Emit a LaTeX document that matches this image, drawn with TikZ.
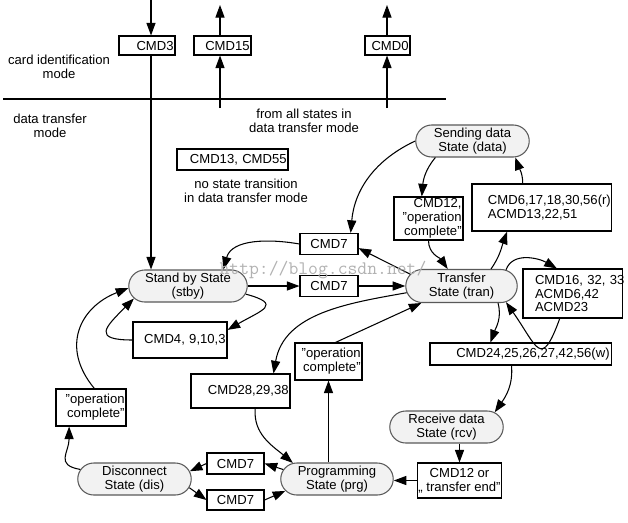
\documentclass[tikz,border=0pt]{standalone}
\usepackage{fontspec}
\setmainfont{Liberation Sans}
\usetikzlibrary{arrows.meta,shapes.misc}

\begin{document}
\begin{tikzpicture}[x=0.025cm, y=0.025cm, line width=0.75pt,
	>={Triangle[length=9pt,width=6.5pt]},
	font=\fontsize{9.3}{9.8}\selectfont,
	state/.style={rounded rectangle, draw=black!65, fill=black!5, minimum width=2.625cm, minimum height=0.8cm, inner xsep=-3pt, inner ysep=0pt, align=center},
	cmd/.style={draw, rectangle, inner xsep=1pt, inner ysep=0.5pt, align=right},
	cmdc/.style={draw, rectangle, inner sep=0.5pt, align=center},
	lbl/.style={inner sep=0pt, align=center}]
	\useasboundingbox (0,0) rectangle (628,522);
	\node[state, minimum width=2.75cm] (stby) at (188,236) {Stand by State\\(stby)};
	\node[state, minimum width=2.575cm, minimum height=0.825cm] (tran) at (461.5,236) {Transfer\\State (tran)};
	\node[state] (data) at (472.5,381) {Sending data\\State (data)};
	\node[state] (rcv) at (446.5,95) {Receive data\\State (rcv)};
	\node[state, minimum width=2.6cm] (prg) at (337,43) {Programming\\State (prg)};
	\node[state] (dis) at (134.5,43) {Disconnect\\State (dis)};
	\node[cmd, text width=1.33cm, minimum height=0.475cm] (cmdthree) at (147,476.5) {CMD3};
	\node[cmd, text width=1.355cm, minimum height=0.475cm] (cmdfifteen) at (222.5,476.5) {CMD15};
	\node[cmd, text width=1.055cm, minimum height=0.475cm] (cmdzero) at (387.5,476.5) {CMD0};
	\node[cmd, text width=2.705cm, minimum height=0.525cm] (cmdthirteen) at (232.5,362.5) {CMD13, CMD55};
	\node[cmd, text width=1.655cm, minimum height=1.075cm] (cmdtwelve) at (428.5,303.5) {CMD12,\\"operation\\complete"};
	\node[cmd, align=left, inner xsep=0.4cm, text width=2.675cm, minimum height=1.175cm] (cmdsix) at (541.5,314.5) {CMD6,17,18,30,56(r)\\ACMD13,22,51};
	\node[cmd, align=left, inner xsep=0.3cm, text width=1.875cm, minimum height=1.225cm] (cmdsixteen) at (572.5,228.5) {CMD16,~32,~33\\ACMD6,42\\ACMD23};
	\node[cmdc, minimum width=1.45cm, minimum height=0.525cm] (cmdsevenup) at (329,278) {CMD7};
	\node[cmdc, minimum width=1.45cm, minimum height=0.525cm] (cmdsevenr) at (329,236) {CMD7};
	\node[cmd, text width=2.28cm, minimum height=0.9cm] (cmdfour) at (180,182) {CMD4, 9,10,3};
	\node[cmd, text width=4.455cm, minimum height=0.55cm] (cmdtwentyfour) at (520.5,168) {CMD24,25,26,27,42,56(w)};
	\node[cmd, text width=2.405cm, minimum height=0.85cm] (cmdtwentyeight) at (240.5,131) {CMD28,29,38};
	\node[cmd, text width=1.605cm, minimum height=0.925cm] (opdone) at (328.5,160.5) {"operation\\complete"};
	\node[cmd, text width=1.68cm, minimum height=0.925cm] (opdis) at (91,114.5) {"operation\\complete"};
	\node[cmdc, minimum width=2.025cm, minimum height=0.875cm] (cmdtwelveor) at (459.5,41.5) {CMD12 or\\„ transfer end"};
	\node[cmdc, minimum width=1.425cm, minimum height=0.525cm] (cmdsevendis) at (235.5,58.5) {CMD7};
	\node[cmdc, minimum width=1.425cm, minimum height=0.5cm] (cmdsevenprg) at (235.5,22) {CMD7};
	\node[lbl] (cardmode) at (59,455.5) {card identification\\mode};
	\node[lbl] (datamode) at (50,396) {data transfer\\mode};
	\node[lbl] (fromall) at (304,401) {from all states in\\data transfer mode};
	\node[lbl] (nostate) at (246,331) {no state transition\\in data transfer mode};
	\coordinate (topthree) at (151,522);
	\coordinate (topfifteen) at (220,517);
	\coordinate (lowfifteen) at (220,414);
	\coordinate (topzero) at (387,517);
	\coordinate (lowzero) at (387,414);
	\coordinate (lineleft) at (3,423);
	\coordinate (lineright) at (446,423);
	\draw (lineleft) -- (lineright);
	\draw[->] (topthree) -- (topthree |- cmdthree.north);
	\draw[->] (topthree |- cmdthree.south) -- (topthree |- stby.north);
	\draw[->] (lowfifteen) -- (lowfifteen |- cmdfifteen.south);
	\draw[->] (lowfifteen |- cmdfifteen.north) -- (topfifteen);
	\draw[->] (lowzero) -- (lowzero |- cmdzero.south);
	\draw[->] (lowzero |- cmdzero.north) -- (topzero);
	\draw[->] (data.west) to[out=205, in=85] (cmdsevenup.27);
	\draw[->] (data.204) to[out=230, in=85] (cmdtwelve.107);
	\draw[->] (cmdtwelve.south) to[out=-90, in=125] (tran.129);
	\draw[->] (tran.30) to[out=55, in=250] (cmdsix.215);
	\draw[->] (cmdsix.128) to[out=90, in=-70] (data.-21);
	\draw[->] (tran.20) to[out=70, in=150] (cmdsixteen.122);
	\draw[->] (cmdsixteen.243) to[out=-110, in=-55, looseness=2.5] (tran.-20);
	\draw[->] (tran.167) -- (cmdsevenup.-8);
	\draw[->] (cmdsevenup.west) to[out=170, in=75] (stby.25);
	\draw[->] (stby.east) -- (cmdsevenr.west);
	\draw[->] (cmdsevenr.east) -- (tran.west);
	\draw[->] (stby.-8) to[out=-15, in=30, looseness=2.5] (cmdfour.12);
	\draw[->] (cmdfour.west) to[out=180, in=225, looseness=2.5] (stby.193);
	\draw[->] (opdis.80) .. controls (60,175) and (80,215) .. (stby.182);
	\draw[->] (dis.170) to[out=170, in=-90, looseness=1.5] (opdis.221);
	\draw[->] (cmdsevendis.west) -- (dis.8);
	\draw[->] (dis.-9) -- (cmdsevenprg.west);
	\draw[->] (prg.170) -- (cmdsevendis.east);
	\draw[->] (cmdsevenprg.east) -- (prg.193);
	\draw[->] (cmdtwentyeight.-50) to[out=-95, in=140] (prg.160);
	\draw[->] (tran.187) to[out=190, in=80] (cmdtwentyeight.28);
	\draw[->] (opdone.70) -- (tran.203);
	\draw[->] (opdone.south |- prg.north) -- (opdone.south);
	\draw[->] (cmdtwelveor.west) -- (cmdtwelveor.west -| prg.east);
	\draw[->] (cmdtwelveor.north |- rcv.south) -- (cmdtwelveor.north);
	\draw[->] (cmdtwentyfour.232) to[out=-85, in=55] (rcv.17);
	\draw[->] (tran.-25) to[out=-75, in=70] (cmdtwentyfour.159);
	\node[font=\fontsize{13.6}{14}\selectfont\ttfamily, text=black!30, inner sep=0pt] (watermark) at (323,252) {http://blog.csdn.net/};
\end{tikzpicture}
\end{document}
